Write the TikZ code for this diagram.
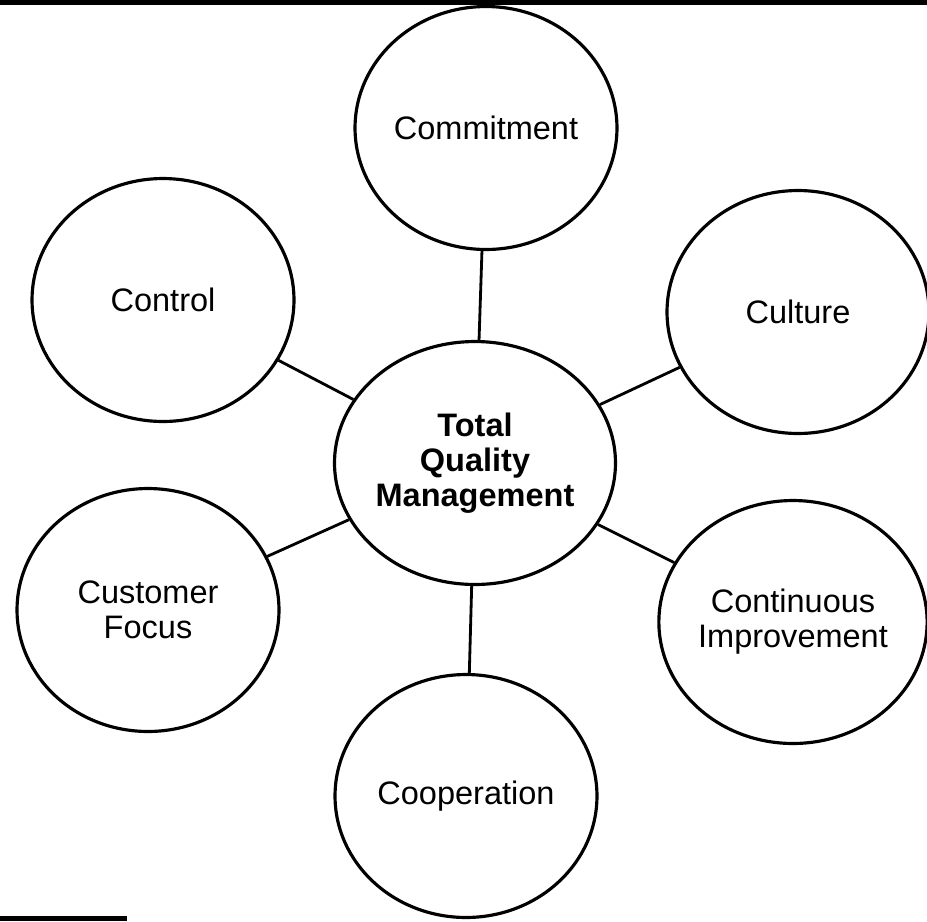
\documentclass[tikz,border=0pt]{standalone}
\usepackage{fontspec}
\setmainfont{Liberation Sans}
\usetikzlibrary{shapes.geometric}

\begin{document}
\begin{tikzpicture}[x=0.02cm,y=-0.02cm,
                topic/.style={ellipse,draw,line width=1.8pt,minimum width=5.24cm,minimum height=4.86cm,
                              inner sep=0pt,align=center,font=\fontsize{18.5}{20}\selectfont},
                spoke/.style={line width=1.6pt}]

                \useasboundingbox (0,0) rectangle (927,921);
                \fill (0,0) rectangle (927,5);
                \fill (0,916) rectangle (127,921);

                \node[topic,font=\fontsize{18.5}{20}\selectfont\bfseries] (tqm) at (475,463) {Total\\Quality\\Management};

                \node[topic] (commit) at (486,128) {Commitment};
                \node[topic] (control) at (163,300) {Control};
                \node[topic] (culture) at (798,312) {Culture};
                \node[topic] (custfocus) at (148,610) {Customer\\Focus};
                \node[topic] (contimp) at (793,622) {Continuous\\Improvement};
                \node[topic] (coop) at (466,796) {Cooperation};

                \path[spoke] (tqm) edge (commit)
                                   edge (control)
                                   edge (culture)
                                   edge (custfocus)
                                   edge (contimp)
                                   edge (coop);

            \end{tikzpicture}
\end{document}
